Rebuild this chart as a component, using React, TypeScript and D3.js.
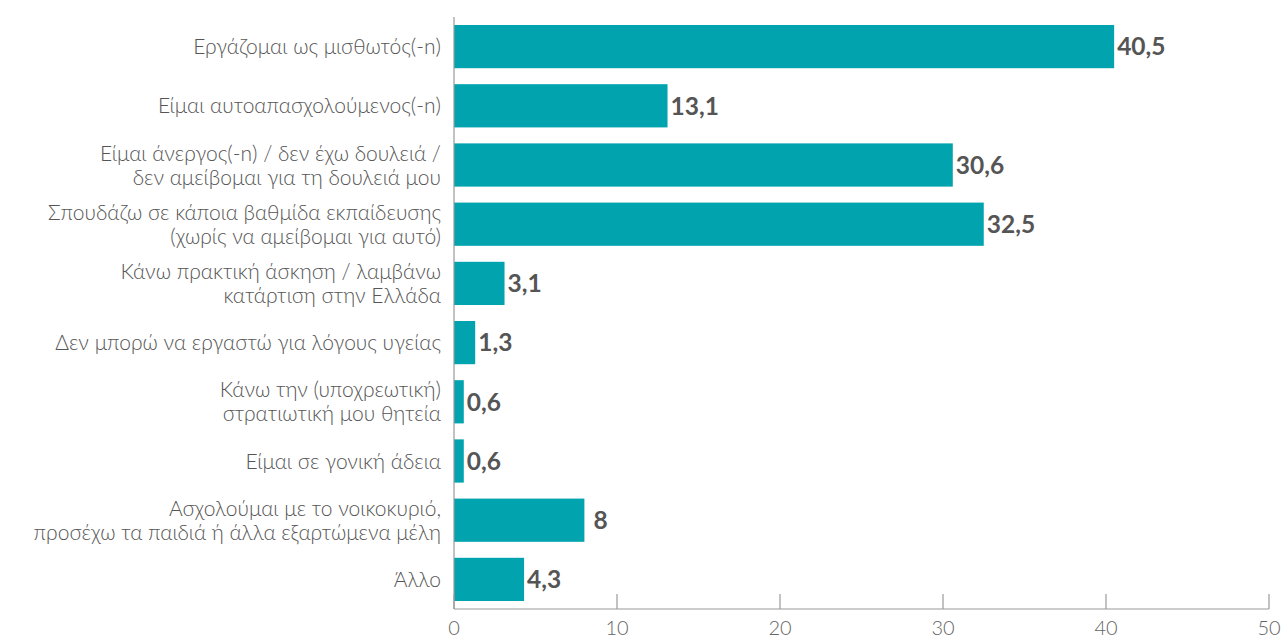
import React from 'react';
import { scaleLinear, scaleBand } from 'd3';

const categories = [
  ['Εργάζομαι ως μισθωτός(-n)'],
  ['Είμαι αυτοαπασχολούμενος(-n)'],
  ['Είμαι άνεργος(-n) / δεν έχω δουλειά /', 'δεν αμείβομαι για τη δουλειά μου'],
  ['Σπουδάζω σε κάποια βαθμίδα εκπαίδευσης', '(χωρίς να αμείβομαι για αυτό)'],
  ['Κάνω πρακτική άσκηση / λαμβάνω', 'κατάρτιση στην Ελλάδα'],
  ['Δεν μπορώ να εργαστώ για λόγους υγείας'],
  ['Κάνω την (υποχρεωτική)', 'στρατιωτική μου θητεία'],
  ['Είμαι σε γονική άδεια'],
  ['Ασχολούμαι με το νοικοκυριό,', 'προσέχω τα παιδιά ή άλλα εξαρτώμενα μέλη'],
  ['Άλλο'],
];
const values = [40.5, 13.1, 30.6, 32.5, 3.1, 1.3, 0.6, 0.6, 8, 4.3];
const ticks = [0, 10, 20, 30, 40, 50];

const W = 1281;
const H = 640;
const left = 454;
const right = 1269;
const top = 17;
const bottom = 609;
const barColor = '#00a3ae';

const App = () => {
  const x = scaleLinear().domain([0, 50]).range([left, right]);
  const y = scaleBand<number>()
    .domain(values.map((_, i) => i))
    .range([top, bottom])
    .paddingInner(0.27)
    .paddingOuter(0.135);
  const fmt = (v: number) => String(v).replace('.', ',');

  return (
    <svg width={W} height={H} style={{ position: 'absolute', left: 0, top: 0, background: '#fff' }}>
      {values.map((v, i) => {
        const yc = (y(i) as number) + y.bandwidth() / 2;
        const lines = categories[i];
        return (
          <g key={i}>
            <rect x={x(0)} y={y(i)} width={x(v) - x(0)} height={y.bandwidth()} fill={barColor} />
            <text
              x={x(v) + (Number.isInteger(v) ? 9 : 3)}
              y={yc}
              dy="0.36em"
              fontFamily="Lato"
              fontWeight="bold"
              fontSize={24.5}
              fill="#555"
            >
              {fmt(v)}
            </text>
            {lines.map((l, j) => (
              <text
                key={j}
                x={left - 13}
                y={yc + (j - (lines.length - 1) / 2) * 24}
                dy="0.36em"
                textAnchor="end"
                fontFamily="Lato"
                fontWeight={300}
                fontSize={21}
                fill="#555"
              >
                {l}
              </text>
            ))}
          </g>
        );
      })}
      <line x1={left} x2={left} y1={top} y2={bottom} stroke="#999" strokeWidth={1.2} />
      <line x1={left} x2={right} y1={bottom} y2={bottom} stroke="#999" strokeWidth={1.2} />
      {ticks.map((t) => (
        <g key={t}>
          <line x1={x(t)} x2={x(t)} y1={bottom - 15} y2={bottom} stroke="#999" strokeWidth={1.2} />
          <text
            x={x(t)}
            y={628}
            dy="0.36em"
            textAnchor="middle"
            fontFamily="Lato"
            fontWeight={300}
            fontSize={20}
            fill="#666"
          >
            {t}
          </text>
        </g>
      ))}
    </svg>
  );
};

export default App;
